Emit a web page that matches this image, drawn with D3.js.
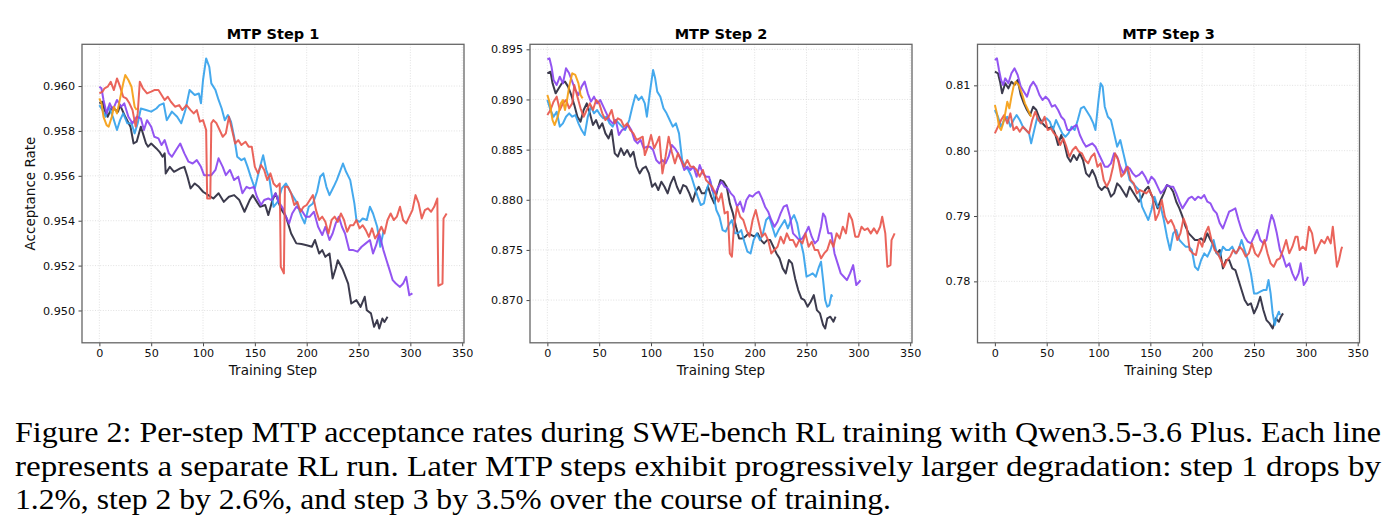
<!DOCTYPE html>
<html>
<head>
<meta charset="utf-8">
<script src="https://cdn.jsdelivr.net/npm/d3@7"></script>
<style>
  html, body { margin: 0; padding: 0; background: #fff; }
  svg { display: block; }
</style>
</head>
<body>
<div id="chart"></div>
<script>
// Per-step MTP acceptance rate, five RL runs per panel: [training step, rate]

// ---- MTP step 1 ----
const s1Dark = [[0,.95923],[3,.95930],[5,.95893],[8,.95863],[12,.95905],[18,.95886],[20,.95915],[25,.95863],[30,.95819],[33,.95744],[36,.95752],[40,.95819],[45,.95744],[47,.95730],[50,.95744],[55,.95722],[58,.95707],[61,.95685],[63,.95700],[64,.95610],[68,.95640],[72,.95618],[78,.95633],[82,.95640],[85,.95596],[88,.95544],[92,.95566],[96,.95551],[100,.95529],[105,.95514],[110,.95499],[115,.95522],[120,.95484],[125,.95507],[130,.95514],[135,.95492],[140,.95440],[145,.95492],[148,.95514],[152,.95484],[155,.95462],[160,.95470],[163,.95425],[167,.95492],[170,.95522],[175,.95455],[180,.95418],[185,.95343],[190,.95299],[195,.95296],[200,.95291],[205,.95284],[208,.95314],[212,.95254],[215,.95269],[218,.95239],[222,.95254],[225,.95143],[228,.95187],[230,.95224],[235,.95180],[240,.95120],[243,.95031],[248,.95046],[252,.95016],[256,.95061],[258,.95001],[262,.94987],[265,.94927],[268,.94957],[270,.94920],[273,.94964],[275,.94949],[278,.94972]];
const s1Blue = [[0,.95915],[3,.95893],[6,.95863],[9,.95908],[13,.95863],[17,.95804],[20,.95848],[23,.95878],[27,.95834],[31,.95834],[34,.95789],[37,.95834],[40,.95900],[45,.95893],[50,.95886],[55,.95900],[58,.95915],[62,.95923],[65,.95848],[70,.95886],[75,.95863],[79,.95834],[83,.95893],[87,.95982],[92,.95960],[96,.95967],[98,.95923],[100,.96027],[103,.96123],[106,.96086],[108,.96012],[112,.95982],[115,.95938],[118,.95900],[121,.95848],[124,.95871],[127,.95841],[130,.95774],[133,.95685],[137,.95670],[140,.95678],[143,.95640],[146,.95596],[150,.95544],[155,.95640],[158,.95692],[161,.95626],[164,.95588],[168,.95462],[172,.95484],[176,.95544],[180,.95566],[185,.95522],[190,.95484],[195,.95418],[198,.95388],[202,.95462],[206,.95477],[210,.95529],[213,.95596],[216,.95611],[219,.95551],[222,.95514],[226,.95551],[229,.95581],[232,.95618],[235,.95655],[238,.95618],[242,.95581],[246,.95477],[248,.95403],[251,.95395],[254,.95410],[258,.95403],[261,.95462],[264,.95432],[268,.95373],[271,.95284],[274,.95351],[275,.95343]];
const s1Purple = [[0,.95997],[2,.95990],[4,.95938],[7,.95878],[10,.95923],[13,.95893],[17,.95938],[21,.95908],[24,.95923],[28,.95863],[32,.95834],[36,.95863],[40,.95856],[43,.95804],[46,.95848],[50,.95819],[53,.95774],[57,.95767],[60,.95737],[63,.95759],[67,.95700],[70,.95685],[74,.95715],[78,.95744],[82,.95700],[86,.95663],[90,.95655],[94,.95670],[98,.95640],[101,.95603],[105,.95603],[108,.95603],[112,.95626],[115,.95678],[119,.95640],[122,.95603],[126,.95626],[130,.95581],[134,.95596],[138,.95522],[142,.95551],[145,.95544],[149,.95551],[152,.95507],[156,.95470],[159,.95492],[163,.95499],[166,.95492],[170,.95522],[173,.95484],[177,.95455],[180,.95418],[183,.95388],[186,.95432],[190,.95462],[195,.95447],[199,.95418],[203,.95418],[207,.95440],[211,.95373],[215,.95336],[218,.95373],[222,.95314],[225,.95343],[228,.95388],[231,.95418],[234,.95373],[237,.95343],[241,.95269],[245,.95269],[249,.95262],[253,.95284],[257,.95299],[261,.95314],[264,.95254],[267,.95291],[270,.95343],[274,.95269],[277,.95224],[280,.95180],[283,.95135],[286,.95120],[290,.95105],[293,.95120],[296,.95150],[299,.95068],[302,.95076]];
const s1Red = [[0,.95967],[3,.95975],[5,.95990],[8,.95997],[11,.96019],[14,.95982],[17,.96034],[20,.95997],[23,.95952],[26,.95945],[29,.95923],[32,.95893],[35,.95819],[37,.95878],[39,.96019],[42,.95990],[46,.95967],[50,.95975],[53,.95982],[57,.95982],[60,.95960],[63,.95938],[66,.95952],[69,.95930],[73,.95908],[77,.95915],[80,.95893],[84,.95915],[88,.95893],[91,.95878],[94,.95893],[97,.95841],[100,.95848],[103,.95804],[104,.95499],[107,.95499],[108,.95834],[110,.95848],[113,.95834],[116,.95804],[119,.95774],[122,.95789],[125,.95863],[128,.95804],[131,.95744],[134,.95759],[137,.95737],[141,.95752],[144,.95730],[147,.95730],[150,.95640],[153,.95611],[156,.95648],[159,.95626],[162,.95581],[165,.95611],[168,.95566],[171,.95551],[174,.95566],[175,.95195],[178,.95165],[179,.95551],[182,.95551],[185,.95522],[188,.95470],[191,.95484],[194,.95440],[197,.95462],[200,.95470],[203,.95492],[206,.95514],[209,.95447],[212,.95403],[215,.95418],[218,.95395],[221,.95343],[224,.95403],[227,.95418],[230,.95395],[233,.95432],[236,.95403],[239,.95351],[242,.95380],[245,.95380],[248,.95403],[251,.95366],[254,.95380],[257,.95358],[260,.95328],[263,.95366],[266,.95321],[269,.95343],[272,.95373],[275,.95343],[278,.95403],[281,.95432],[284,.95403],[287,.95418],[290,.95462],[293,.95403],[296,.95388],[299,.95418],[302,.95447],[305,.95514],[308,.95477],[311,.95410],[314,.95447],[317,.95455],[320,.95440],[323,.95462],[326,.95499],[327,.95110],[331,.95120],[332,.95410],[335,.95432]];
const s1Orange = [[0,.95945],[2,.95923],[4,.95863],[7,.95826],[9,.95819],[12,.95863],[14,.95908],[17,.95878],[20,.95945],[23,.96012],[25,.96049],[28,.96027],[31,.95997],[34,.95908],[36,.95893]];

// ---- MTP step 2 ----
const s2Dark = [[0,.89261],[3,.89277],[5,.89161],[8,.89061],[11,.89111],[14,.89161],[17,.89178],[20,.89128],[23,.89045],[26,.88945],[29,.88828],[32,.88779],[35,.88895],[38,.88961],[41,.88862],[44,.88745],[47,.88795],[50,.88712],[53,.88762],[56,.88662],[59,.88612],[62,.88695],[65,.88463],[68,.88430],[71,.88513],[74,.88446],[77,.88496],[80,.88430],[83,.88479],[86,.88330],[89,.88263],[92,.88313],[95,.88330],[98,.88263],[101,.88130],[104,.88164],[107,.88097],[110,.88180],[113,.88130],[116,.88064],[119,.88164],[122,.88230],[125,.88130],[128,.88064],[131,.88147],[134,.88130],[137,.88064],[140,.87981],[143,.88080],[146,.88130],[149,.88064],[152,.88064],[155,.88130],[158,.88031],[161,.87964],[164,.88097],[167,.88197],[170,.88180],[173,.88130],[176,.87964],[179,.87864],[182,.87731],[185,.87615],[188,.87615],[191,.87632],[194,.87665],[197,.87648],[200,.87632],[203,.87665],[206,.87598],[209,.87565],[212,.87598],[215,.87598],[218,.87532],[221,.87465],[224,.87416],[227,.87316],[230,.87266],[233,.87399],[236,.87366],[239,.87216],[242,.87100],[245,.87017],[248,.87000],[251,.86934],[254,.86983],[257,.87050],[260,.86900],[263,.86867],[266,.86751],[268,.86717],[270,.86817],[273,.86834],[276,.86784],[278,.86834]];
const s2Blue = [[0,.88995],[3,.88895],[6,.88828],[9,.88878],[12,.88729],[15,.88762],[18,.88828],[21,.88862],[24,.88828],[27,.88845],[30,.88762],[33,.88695],[36,.88646],[39,.88828],[42,.88928],[45,.88862],[48,.88895],[51,.88845],[54,.88812],[57,.88828],[60,.88762],[63,.88729],[66,.88795],[69,.88762],[72,.88729],[75,.88695],[79,.88795],[82,.88928],[85,.89045],[88,.88995],[91,.89028],[94,.88961],[96,.88828],[99,.89078],[102,.89294],[104,.89211],[106,.89078],[109,.89028],[112,.88912],[115,.88862],[118,.88795],[121,.88729],[124,.88762],[127,.88662],[130,.88396],[133,.88330],[136,.88297],[139,.88230],[142,.88130],[145,.88031],[148,.87947],[151,.87964],[154,.88114],[157,.88197],[160,.88064],[163,.87898],[166,.87831],[169,.87698],[172,.87682],[175,.87748],[178,.87798],[181,.87665],[184,.87665],[187,.87698],[190,.87582],[193,.87482],[196,.87465],[199,.87598],[202,.87665],[205,.87598],[208,.87665],[211,.87798],[214,.87831],[217,.87731],[220,.87632],[223,.87698],[226,.87748],[229,.87798],[232,.87715],[235,.87798],[238,.87848],[241,.87765],[244,.87598],[247,.87465],[250,.87233],[253,.87249],[256,.87266],[259,.87233],[262,.87332],[264,.87382],[266,.87199],[268,.87000],[270,.86934],[272,.86950],[274,.87050],[275,.87033]];
const s2Purple = [[0,.89400],[2,.89410],[4,.89327],[6,.89194],[9,.89144],[12,.89227],[15,.89161],[18,.89311],[21,.89261],[24,.89178],[27,.89094],[30,.89045],[33,.89128],[36,.89178],[39,.89061],[42,.88978],[45,.89028],[48,.88961],[51,.88995],[54,.88928],[57,.88862],[60,.88795],[63,.88762],[66,.88795],[69,.88646],[72,.88695],[75,.88712],[78,.88745],[81,.88695],[84,.88596],[87,.88562],[90,.88596],[93,.88513],[96,.88529],[99,.88529],[102,.88496],[105,.88396],[108,.88363],[111,.88396],[114,.88363],[117,.88430],[120,.88546],[123,.88513],[126,.88463],[129,.88396],[132,.88297],[135,.88330],[138,.88297],[141,.88330],[144,.88230],[147,.88346],[150,.88263],[153,.88230],[156,.88230],[159,.88097],[162,.88064],[165,.88130],[168,.88180],[171,.88130],[174,.88114],[177,.88064],[180,.88031],[183,.87931],[186,.87981],[189,.87881],[192,.87997],[195,.88047],[198,.88031],[201,.88064],[204,.88080],[207,.88014],[210,.87931],[213,.87881],[216,.87798],[219,.87731],[222,.87781],[225,.87864],[228,.87931],[231,.87947],[234,.87831],[237,.87665],[240,.87632],[243,.87598],[246,.87615],[249,.87665],[252,.87731],[255,.87632],[258,.87565],[261,.87598],[264,.87731],[266,.87864],[268,.87831],[271,.87665],[274,.87665],[277,.87465],[280,.87366],[283,.87266],[286,.87233],[289,.87199],[292,.87266],[295,.87349],[298,.87150],[301,.87183],[302,.87199]];
const s2Red = [[0,.88845],[3,.88895],[6,.88978],[9,.89028],[12,.88895],[15,.88961],[18,.88995],[21,.88912],[24,.88961],[26,.89144],[29,.89028],[32,.88912],[35,.88828],[38,.88895],[41,.88961],[44,.88895],[47,.88995],[50,.88961],[53,.88862],[56,.88795],[59,.88828],[62,.88895],[65,.88762],[68,.88812],[71,.88795],[74,.88729],[77,.88762],[80,.88695],[83,.88662],[86,.88596],[89,.88612],[92,.88629],[94,.88446],[97,.88529],[100,.88646],[103,.88513],[106,.88579],[108,.88629],[111,.88263],[114,.88430],[117,.88629],[120,.88479],[123,.88363],[126,.88463],[129,.88396],[132,.88330],[135,.88396],[138,.88330],[141,.88330],[144,.88297],[147,.88230],[150,.88297],[153,.88197],[156,.88164],[159,.88130],[162,.88064],[165,.87981],[168,.88064],[171,.87864],[174,.87881],[176,.87465],[178,.87432],[180,.87731],[183,.87931],[186,.87831],[189,.87798],[192,.87698],[195,.87632],[198,.87798],[201,.87898],[204,.87765],[207,.87632],[210,.87665],[213,.87598],[216,.87465],[219,.87499],[222,.87532],[225,.87632],[228,.87565],[231,.87665],[234,.87598],[237,.87598],[240,.87532],[243,.87598],[246,.87565],[249,.87665],[252,.87532],[255,.87582],[258,.87499],[261,.87499],[264,.87416],[267,.87465],[270,.87499],[273,.87598],[276,.87532],[279,.87665],[282,.87615],[285,.87731],[288,.87665],[291,.87864],[294,.87798],[297,.87632],[300,.87632],[303,.87731],[306,.87698],[309,.87715],[312,.87665],[315,.87715],[318,.87665],[321,.87731],[323,.87831],[326,.87665],[328,.87332],[331,.87349],[332,.87598],[335,.87665]];
const s2Orange = [[0,.89045],[2,.88978],[5,.88795],[7,.88745],[10,.88828],[13,.88961],[15,.88995],[17,.88895],[19,.88995],[21,.89128],[24,.89261],[27,.89244],[30,.89161],[32,.89045],[34,.89011]];

// ---- MTP step 3 ----
const s3Dark = [[0,.81209],[3,.81184],[5,.81056],[7,.80878],[10,.81031],[13,.80954],[16,.81056],[19,.81005],[22,.81082],[25,.80852],[28,.80724],[31,.80622],[34,.80546],[37,.80673],[40,.80622],[43,.80495],[46,.80418],[49,.80367],[52,.80342],[55,.80367],[58,.80265],[61,.80087],[64,.80240],[67,.80112],[70,.79908],[73,.79832],[76,.79934],[79,.79857],[82,.79959],[85,.79857],[88,.79653],[91,.79602],[94,.79704],[97,.79602],[100,.79449],[103,.79398],[106,.79449],[109,.79423],[112,.79296],[115,.79347],[118,.79500],[121,.79449],[124,.79372],[127,.79296],[130,.79449],[133,.79372],[136,.79296],[139,.79219],[142,.79296],[145,.79398],[148,.79449],[151,.79321],[154,.79245],[157,.79117],[160,.79245],[163,.79347],[166,.79474],[169,.79449],[172,.79372],[175,.79219],[178,.79117],[181,.78990],[184,.78837],[187,.78735],[190,.78684],[193,.78633],[196,.78633],[199,.78658],[202,.78607],[205,.78735],[208,.78633],[211,.78556],[214,.78429],[217,.78480],[220,.78199],[223,.78327],[226,.78327],[229,.78199],[232,.78173],[235,.78020],[238,.77867],[241,.77714],[244,.77638],[247,.77663],[250,.77510],[253,.77612],[256,.77765],[259,.77561],[262,.77408],[265,.77357],[268,.77281],[271,.77434],[274,.77383],[276,.77459],[278,.77510]];
const s3Blue = [[0,.80622],[3,.80520],[6,.80367],[9,.80469],[12,.80520],[15,.80367],[18,.80469],[21,.80546],[24,.80469],[27,.80367],[30,.80316],[33,.80265],[35,.80112],[38,.80316],[41,.80520],[44,.80418],[47,.80469],[50,.80495],[53,.80444],[56,.80316],[59,.80469],[62,.80367],[65,.80265],[68,.80214],[71,.80265],[74,.80367],[77,.80316],[80,.80469],[83,.80648],[86,.80673],[89,.80597],[92,.80520],[95,.80418],[97,.80316],[100,.80776],[102,.81031],[104,.80980],[106,.80673],[109,.80520],[112,.80469],[115,.80265],[118,.80061],[121,.80163],[124,.79959],[127,.79755],[130,.79551],[133,.79500],[136,.79449],[139,.79398],[142,.79143],[145,.79041],[148,.78939],[151,.79092],[154,.79296],[157,.79143],[160,.79143],[163,.78939],[166,.78684],[169,.78480],[172,.78735],[175,.78786],[178,.78633],[181,.78582],[184,.78531],[187,.78531],[190,.78480],[193,.78224],[196,.78173],[199,.78327],[202,.78429],[205,.78378],[208,.78480],[211,.78633],[214,.78429],[217,.78378],[220,.78531],[223,.78480],[226,.78480],[229,.78531],[232,.78429],[235,.78480],[238,.78633],[241,.78480],[244,.78327],[247,.78122],[250,.77816],[253,.77816],[256,.77842],[259,.77867],[262,.77867],[264,.78020],[266,.77816],[268,.77510],[270,.77332],[272,.77459],[274,.77536],[275,.77485]];
const s3Purple = [[0,.81388],[2,.81413],[4,.81235],[6,.81082],[8,.81005],[10,.81107],[13,.81031],[16,.81184],[19,.81260],[22,.81158],[25,.80980],[28,.80903],[31,.80827],[34,.80980],[37,.81056],[40,.80980],[43,.80852],[46,.80776],[49,.80827],[52,.80776],[55,.80673],[58,.80699],[61,.80622],[64,.80520],[67,.80469],[70,.80316],[73,.80316],[76,.80367],[79,.80393],[82,.80240],[85,.80138],[88,.80061],[91,.80087],[94,.80112],[97,.80061],[100,.79959],[103,.79857],[106,.79755],[109,.79755],[112,.79806],[115,.79959],[118,.79908],[121,.79755],[124,.79653],[127,.79755],[130,.79730],[133,.79653],[136,.79602],[139,.79628],[142,.79679],[145,.79602],[148,.79500],[151,.79602],[154,.79551],[157,.79449],[160,.79347],[163,.79398],[166,.79474],[169,.79449],[172,.79449],[175,.79347],[178,.79219],[181,.79117],[184,.79194],[187,.79270],[190,.79296],[193,.79245],[196,.79296],[199,.79270],[202,.79321],[205,.79219],[208,.79194],[211,.79092],[214,.79041],[217,.78888],[220,.78811],[223,.78939],[226,.79066],[229,.79092],[232,.79117],[235,.78939],[238,.78786],[241,.78684],[244,.78607],[247,.78582],[250,.78684],[253,.78786],[256,.78633],[259,.78582],[262,.78633],[265,.78888],[267,.79015],[269,.78939],[272,.78735],[275,.78480],[278,.78378],[281,.78224],[284,.78276],[287,.78122],[290,.78020],[293,.78122],[295,.78276],[298,.77944],[301,.78020],[302,.78071]];
const s3Red = [[0,.80265],[3,.80367],[6,.80469],[9,.80546],[12,.80418],[15,.80571],[18,.80316],[21,.80367],[24,.80291],[27,.80367],[30,.80316],[33,.80265],[36,.80469],[39,.80597],[42,.80469],[45,.80418],[48,.80520],[51,.80316],[54,.80342],[57,.80265],[60,.80214],[63,.80087],[66,.80189],[69,.80061],[72,.79908],[75,.80010],[78,.80061],[81,.79985],[84,.79959],[87,.79857],[90,.79806],[93,.79908],[96,.79959],[99,.79755],[102,.79806],[105,.79551],[108,.79449],[111,.79551],[114,.79755],[116,.79959],[119,.79857],[122,.79602],[125,.79653],[128,.79755],[131,.79551],[134,.79500],[137,.79347],[140,.79398],[143,.79372],[146,.79347],[149,.79398],[152,.79296],[155,.78939],[158,.79041],[161,.79245],[164,.78990],[167,.78888],[170,.78939],[173,.78837],[176,.78633],[179,.78735],[182,.78964],[185,.78837],[188,.78480],[191,.78429],[194,.78403],[197,.78633],[200,.78531],[203,.78735],[206,.78837],[209,.78633],[212,.78480],[215,.78429],[218,.78327],[221,.78224],[224,.78327],[227,.78378],[230,.78480],[233,.78429],[236,.78531],[239,.78480],[242,.78378],[245,.78429],[248,.78582],[251,.78429],[254,.78378],[257,.78480],[260,.78633],[263,.78429],[266,.78276],[269,.78224],[272,.78327],[275,.78352],[278,.78480],[281,.78633],[284,.78429],[287,.78531],[290,.78684],[292,.78684],[294,.78480],[297,.78531],[300,.78480],[303,.78837],[306,.78735],[309,.78429],[312,.78531],[315,.78633],[318,.78582],[321,.78684],[324,.78582],[326,.78837],[328,.78531],[330,.78224],[332,.78327],[334,.78480],[335,.78531]];
const s3Orange = [[0,.80699],[2,.80571],[4,.80367],[6,.80316],[8,.80418],[10,.80571],[12,.80750],[14,.80648],[16,.80827],[18,.80980],[20,.81056],[23,.81005],[26,.80878],[29,.80724],[32,.80622],[35,.80520]];

const titles = ['MTP Step 1', 'MTP Step 2', 'MTP Step 3'];
const xTicks = [0, 50, 100, 150, 200, 250, 300, 350];
const yTicks1 = [0.950, 0.952, 0.954, 0.956, 0.958, 0.960];
const yTicks2 = [0.870, 0.875, 0.880, 0.885, 0.890, 0.895];
const yTicks3 = [0.78, 0.79, 0.80, 0.81];
const yRange1 = [0.94856, 0.96186];
const yRange2 = [0.86574, 0.89550];
const yRange3 = [0.77060, 0.81628];
const xRange = [-16.75, 351.75];

const runColors = ['#2b2a3e', '#35a2ec', '#8a46f0', '#e8574d', '#f59e12'];

const captionLines = [
  'Figure 2: Per-step MTP acceptance rates during SWE-bench RL training with Qwen3.5-3.6 Plus. Each line',
  'represents a separate RL run. Later MTP steps exhibit progressively larger degradation: step 1 drops by',
  '1.2%, step 2 by 2.6%, and step 3 by 3.5% over the course of training.'
];

const panels = [
  {title: titles[0], runs: [s1Dark, s1Blue, s1Purple, s1Red, s1Orange], yTicks: yTicks1, yRange: yRange1, fmt: '.3f', left: 82},
  {title: titles[1], runs: [s2Dark, s2Blue, s2Purple, s2Red, s2Orange], yTicks: yTicks2, yRange: yRange2, fmt: '.3f', left: 530},
  {title: titles[2], runs: [s3Dark, s3Blue, s3Purple, s3Red, s3Orange], yTicks: yTicks3, yRange: yRange3, fmt: '.2f', left: 977.5}
];

const W = 1394, H = 530;
const plotW = 382, plotH = 298.5, plotTop = 44.3;
const sans = 'DejaVu Sans, sans-serif';

const svg = d3.select('#chart').append('svg')
  .attr('width', W)
  .attr('height', H);

svg.append('rect').attr('width', W).attr('height', H).attr('fill', '#fff');

panels.forEach((p, i) => {
  const g = svg.append('g')
    .attr('transform', `translate(${p.left},${plotTop})`);

  const x = d3.scaleLinear().domain(xRange).range([0, plotW]);
  const y = d3.scaleLinear().domain(p.yRange).range([plotH, 0]);

  // dotted grid
  g.append('g')
    .selectAll('line')
    .data(xTicks)
    .enter().append('line')
    .attr('x1', d => x(d)).attr('x2', d => x(d))
    .attr('y1', 0).attr('y2', plotH)
    .attr('stroke', '#d9d9d9')
    .attr('stroke-width', 0.8)
    .attr('stroke-dasharray', '1,1.6');

  g.append('g')
    .selectAll('line')
    .data(p.yTicks)
    .enter().append('line')
    .attr('x1', 0).attr('x2', plotW)
    .attr('y1', d => y(d)).attr('y2', d => y(d))
    .attr('stroke', '#d9d9d9')
    .attr('stroke-width', 0.8)
    .attr('stroke-dasharray', '1,1.6');

  // runs
  const line = d3.line()
    .x(d => x(d[0]))
    .y(d => y(d[1]));

  p.runs.forEach((run, k) => {
    g.append('path')
      .datum(run)
      .attr('d', line)
      .attr('fill', 'none')
      .attr('stroke', runColors[k])
      .attr('stroke-width', 2)
      .attr('stroke-linejoin', 'round')
      .attr('opacity', 0.92);
  });

  // axes
  const xAxis = g.append('g')
    .attr('transform', `translate(0,${plotH})`)
    .call(d3.axisBottom(x).tickValues(xTicks).tickSize(3.5).tickPadding(3).tickFormat(d3.format('d')));
  const yAxis = g.append('g')
    .call(d3.axisLeft(y).tickValues(p.yTicks).tickSize(3.5).tickPadding(3.5).tickFormat(d3.format(p.fmt)));

  [xAxis, yAxis].forEach(ax => {
    ax.select('.domain').remove();
    ax.selectAll('line').attr('stroke', '#333').attr('stroke-width', 0.9);
    ax.selectAll('text')
      .attr('fill', '#111')
      .attr('font-family', sans)
      .attr('font-size', '11.2px');
  });

  // frame
  g.append('rect')
    .attr('width', plotW)
    .attr('height', plotH)
    .attr('fill', 'none')
    .attr('stroke', '#666')
    .attr('stroke-width', 1.3);

  // title
  g.append('text')
    .attr('x', plotW / 2)
    .attr('y', -5)
    .attr('text-anchor', 'middle')
    .attr('font-family', sans)
    .attr('font-weight', 'bold')
    .attr('font-size', '14.5px')
    .attr('fill', '#000')
    .text(p.title);

  g.append('text')
    .attr('x', plotW / 2)
    .attr('y', plotH + 32.5)
    .attr('text-anchor', 'middle')
    .attr('font-family', sans)
    .attr('font-size', '13.5px')
    .attr('fill', '#111')
    .text('Training Step');

  if (i === 0) {
    g.append('text')
      .attr('transform', `translate(${-47},${plotH / 2}) rotate(-90)`)
      .attr('text-anchor', 'middle')
      .attr('font-family', sans)
      .attr('font-size', '13.5px')
      .attr('fill', '#111')
      .text('Acceptance Rate');
  }
});

// caption
const capWidths = [1366, 1366, 876];
svg.append('g')
  .selectAll('text')
  .data(captionLines)
  .enter().append('text')
  .attr('x', 15)
  .attr('y', (d, i) => 442 + i * 33.5)
  .style('font-family', "'Liberation Serif', 'Times New Roman', serif")
  .attr('font-size', '30px')
  .attr('fill', '#000')
  .attr('textLength', (d, i) => capWidths[i])
  .attr('lengthAdjust', 'spacingAndGlyphs')
  .text(d => d);
</script>
</body>
</html>
